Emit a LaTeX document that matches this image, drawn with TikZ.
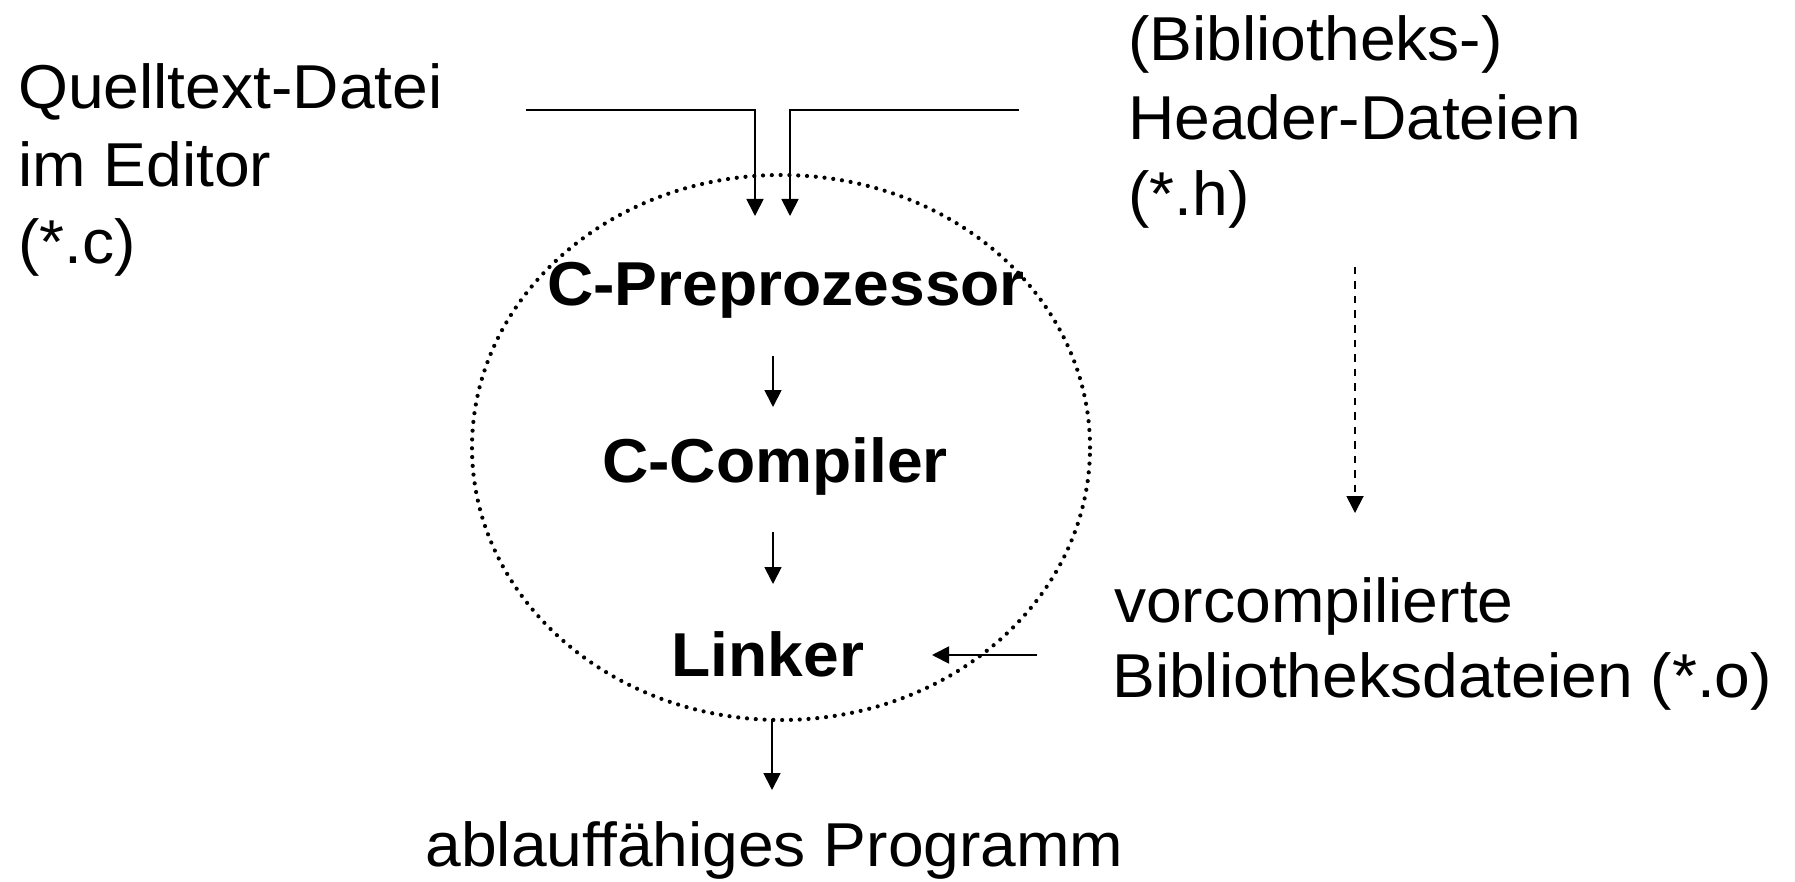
\documentclass[tikz,border=0pt]{standalone}
\usepackage{fontspec}
\setmainfont{Liberation Sans}[FakeStretch=1.035]
\usetikzlibrary{arrows.meta,shapes.geometric}

\tikzset{
  lbl/.style={anchor=base west, inner sep=0pt, font=\fontsize{62pt}{75pt}\selectfont},
  stage/.style={anchor=base, inner sep=0pt, font=\fontsize{62pt}{75pt}\selectfont\bfseries},
  conn/.style={line width=1.8pt, -{Triangle[length=17pt,width=17pt]}},
  dotring/.style={draw, ellipse, line width=4.2pt, line cap=round,
                  dash pattern=on 0pt off 8.8pt},
}

\begin{document}
\begin{tikzpicture}[x=1pt,y=-1pt]
  \useasboundingbox (0,0) rectangle (1795,882);

  % input files
  \node[lbl] (src1) at (18,109) {Quelltext-Datei};
  \node[lbl] (src2) at (18,187) {im Editor};
  \node[lbl] (src3) at (18,264) {(*.c)};

  \node[lbl] (hdr1) at (1128,61)  {(Bibliotheks-)};
  \node[lbl] (hdr2) at (1128,140) {Header-Dateien};
  \node[lbl] (hdr3) at (1128,216) {(*.h)};

  \node[lbl] (lib1) at (1114,622) {vorcompilierte};
  \node[lbl] (lib2) at (1112,697) {Bibliotheksdateien (*.o)};

  % the build loop
  \node[dotring, minimum width=618pt, minimum height=545pt] (loop) at (781,447.5) {};

  \node[stage] (pre) at (786,306) {C-Preprozessor};
  \node[stage] (cc)  at (775,482) {C-Compiler};
  \node[stage] (lnk) at (768,676) {Linker};

  \node[anchor=base, inner sep=0pt, font=\fontsize{62pt}{75pt}\selectfont]
    (prog) at (774.5,866) {ablauffähiges Programm};

  % connector end points
  \coordinate (srcout) at (526,110);
  \coordinate (srcin)  at (755,216);
  \coordinate (hdrout) at (1019,110);
  \coordinate (hdrin)  at (790,216);
  \coordinate (preout) at (773,356);
  \coordinate (ccin)   at (773,407);
  \coordinate (ccout)  at (773,532);
  \coordinate (lnkin)  at (773,584);
  \coordinate (libout) at (1037,655);
  \coordinate (lnkside) at (932,655);
  \coordinate (loopout) at (772,719);
  \coordinate (progin)  at (772,790);
  \coordinate (hdrdown) at (1355,267);
  \coordinate (libtop)  at (1355,513);

  \draw[conn] (srcout) -| (srcin);
  \draw[conn] (hdrout) -| (hdrin);
  \draw[conn] (preout) -- (ccin);
  \draw[conn] (ccout) -- (lnkin);
  \draw[conn] (libout) -- (lnkside);
  \draw[conn] (loopout) -- (progin);
  \draw[conn, dash pattern=on 7.5pt off 7pt] (hdrdown) -- (libtop);
\end{tikzpicture}
\end{document}
